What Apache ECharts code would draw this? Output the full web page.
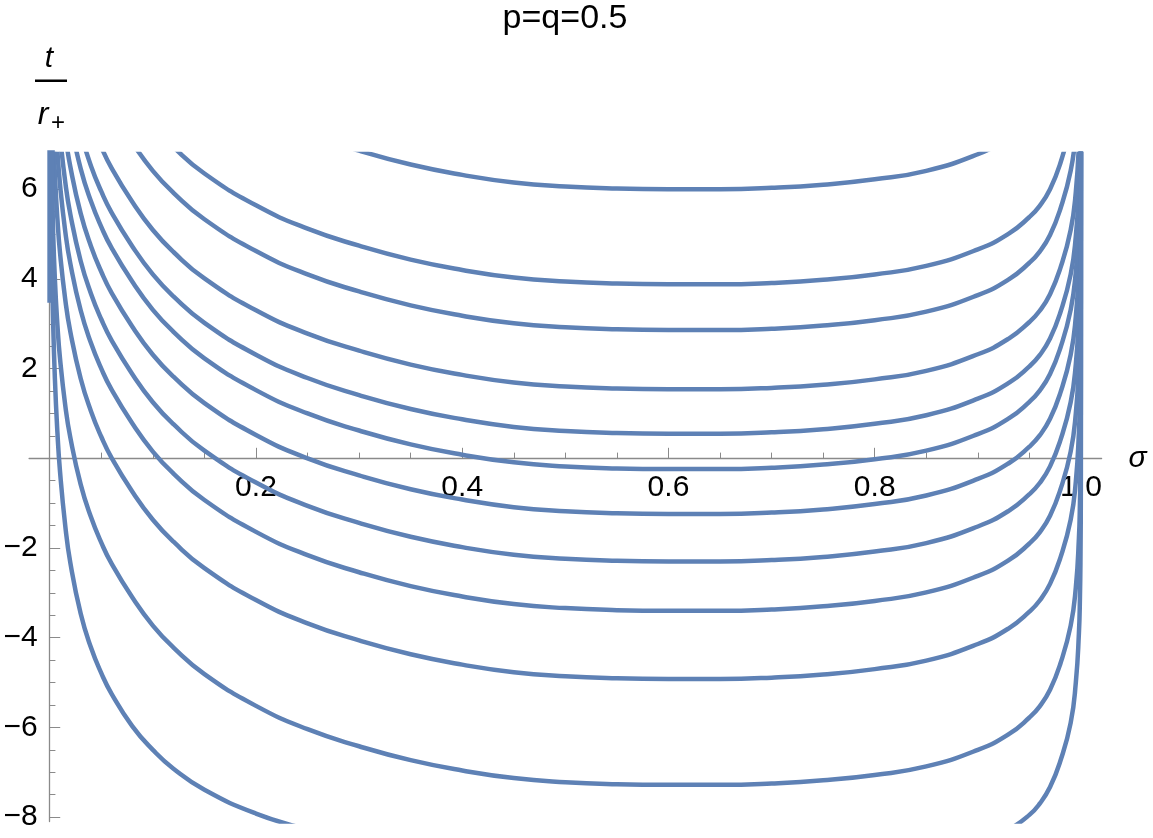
<!DOCTYPE html>
<html><head><meta charset="utf-8">
<script src="https://cdn.jsdelivr.net/npm/echarts@6/dist/echarts.min.js"></script>
<style>html,body{margin:0;padding:0;background:#fff}#c{width:1153px;height:838px}</style>
</head><body><div id="c"></div>
<script>
const chartTitle = 'p=q=0.5';
const xName = 'σ';
const xMajorTicks = [0.2, 0.4, 0.6, 0.8, 1.0];
const xMinorTicks = [0.05, 0.1, 0.15, 0.25, 0.3, 0.35, 0.45, 0.5, 0.55, 0.65, 0.7, 0.75, 0.85, 0.9, 0.95];
const yMajorTicks = [-8, -6, -4, -2, 2, 4, 6];
const yMinorTicks = [-7.5, -7, -6.5, -5.5, -5, -4.5, -3.5, -3, -2.5, -1.5, -1, -0.5, 0.5, 1, 1.5, 2.5, 3, 3.5, 4.5, 5, 5.5, 6.5];

const curve1 = [[0.25,7.24],[0.30,6.86],[0.35,6.55],[0.40,6.32],[0.45,6.15],[0.50,6.06],[0.55,6.015],[0.60,6.00],[0.65,6.00],[0.70,6.03],[0.75,6.10],[0.80,6.22],[0.85,6.41],[0.90,6.78],[0.93,7.13]];
const curve2 = [[0.10,7.43],[0.12,6.94],[0.15,6.35],[0.20,5.64],[0.25,5.12],[0.30,4.74],[0.35,4.43],[0.40,4.20],[0.45,4.03],[0.50,3.94],[0.55,3.895],[0.60,3.88],[0.65,3.88],[0.70,3.91],[0.75,3.98],[0.80,4.10],[0.85,4.29],[0.90,4.66],[0.93,5.01],[0.95,5.38],[0.96,5.63],[0.97,6.00],[0.98,6.58],[0.99,7.43]];
const curve3 = [[0.06,7.79],[0.08,7.04],[0.10,6.41],[0.12,5.92],[0.15,5.33],[0.20,4.62],[0.25,4.10],[0.30,3.72],[0.35,3.41],[0.40,3.18],[0.45,3.01],[0.50,2.92],[0.55,2.875],[0.60,2.86],[0.65,2.86],[0.70,2.89],[0.75,2.96],[0.80,3.08],[0.85,3.27],[0.90,3.64],[0.93,3.99],[0.95,4.36],[0.96,4.61],[0.97,4.98],[0.98,5.56],[0.99,6.41],[0.995,7.26]];
const curve4 = [[0.04,7.51],[0.05,6.94],[0.06,6.47],[0.08,5.72],[0.10,5.09],[0.12,4.60],[0.15,4.01],[0.20,3.30],[0.25,2.78],[0.30,2.40],[0.35,2.09],[0.40,1.86],[0.45,1.69],[0.50,1.60],[0.55,1.555],[0.60,1.54],[0.65,1.54],[0.70,1.57],[0.75,1.64],[0.80,1.76],[0.85,1.95],[0.90,2.32],[0.93,2.67],[0.95,3.04],[0.96,3.29],[0.97,3.66],[0.98,4.24],[0.99,5.09],[0.995,5.94],[0.998,7.04]];
const curve5 = [[0.03,7.25],[0.04,6.52],[0.05,5.95],[0.06,5.48],[0.08,4.73],[0.10,4.10],[0.12,3.61],[0.15,3.02],[0.20,2.31],[0.25,1.79],[0.30,1.41],[0.35,1.10],[0.40,0.87],[0.45,0.70],[0.50,0.61],[0.55,0.565],[0.60,0.55],[0.65,0.55],[0.70,0.58],[0.75,0.65],[0.80,0.77],[0.85,0.96],[0.90,1.33],[0.93,1.68],[0.95,2.05],[0.96,2.30],[0.97,2.67],[0.98,3.25],[0.99,4.10],[0.995,4.95],[0.998,6.05],[0.999,6.85]];
const curve6 = [[0.02,7.50],[0.03,6.46],[0.04,5.73],[0.05,5.16],[0.06,4.69],[0.08,3.94],[0.10,3.31],[0.12,2.82],[0.15,2.23],[0.20,1.52],[0.25,1.00],[0.30,0.62],[0.35,0.31],[0.40,0.08],[0.45,-0.09],[0.50,-0.18],[0.55,-0.225],[0.60,-0.24],[0.65,-0.24],[0.70,-0.21],[0.75,-0.14],[0.80,-0.02],[0.85,0.17],[0.90,0.54],[0.93,0.89],[0.95,1.26],[0.96,1.51],[0.97,1.88],[0.98,2.46],[0.99,3.31],[0.995,4.16],[0.998,5.26],[0.999,6.06],[0.9995,6.86]];
const curve7 = [[0.01,8.26],[0.015,7.23],[0.02,6.50],[0.03,5.46],[0.04,4.73],[0.05,4.16],[0.06,3.69],[0.08,2.94],[0.10,2.31],[0.12,1.82],[0.15,1.23],[0.20,0.52],[0.25,0.00],[0.30,-0.38],[0.35,-0.69],[0.40,-0.92],[0.45,-1.09],[0.50,-1.18],[0.55,-1.225],[0.60,-1.24],[0.65,-1.24],[0.70,-1.21],[0.75,-1.14],[0.80,-1.02],[0.85,-0.83],[0.90,-0.46],[0.93,-0.11],[0.95,0.26],[0.96,0.51],[0.97,0.88],[0.98,1.46],[0.99,2.31],[0.995,3.16],[0.998,4.26],[0.999,5.06],[0.9995,5.86],[0.9999,7.76]];
const curve8 = [[0.0075,7.94],[0.01,7.20],[0.015,6.17],[0.02,5.44],[0.03,4.40],[0.04,3.67],[0.05,3.10],[0.06,2.63],[0.08,1.88],[0.10,1.25],[0.12,0.76],[0.15,0.17],[0.20,-0.54],[0.25,-1.06],[0.30,-1.44],[0.35,-1.75],[0.40,-1.98],[0.45,-2.15],[0.50,-2.24],[0.55,-2.285],[0.60,-2.30],[0.65,-2.30],[0.70,-2.27],[0.75,-2.20],[0.80,-2.08],[0.85,-1.89],[0.90,-1.52],[0.93,-1.17],[0.95,-0.80],[0.96,-0.55],[0.97,-0.18],[0.98,0.40],[0.99,1.25],[0.995,2.10],[0.998,3.20],[0.999,4.00],[0.9995,4.80],[0.9999,6.70],[0.99999,9.50]];
const curve9 = [[0.005,7.87],[0.0075,6.84],[0.01,6.10],[0.015,5.07],[0.02,4.34],[0.03,3.30],[0.04,2.57],[0.05,2.00],[0.06,1.53],[0.08,0.78],[0.10,0.15],[0.12,-0.34],[0.15,-0.93],[0.20,-1.64],[0.25,-2.16],[0.30,-2.54],[0.35,-2.85],[0.40,-3.08],[0.45,-3.25],[0.50,-3.34],[0.55,-3.385],[0.60,-3.40],[0.65,-3.40],[0.70,-3.37],[0.75,-3.30],[0.80,-3.18],[0.85,-2.99],[0.90,-2.62],[0.93,-2.27],[0.95,-1.90],[0.96,-1.65],[0.97,-1.28],[0.98,-0.70],[0.99,0.15],[0.995,1.00],[0.998,2.10],[0.999,2.90],[0.9995,3.70],[0.9999,5.60],[0.99999,8.40]];
const curve10 = [[0.003,7.65],[0.005,6.35],[0.0075,5.32],[0.01,4.58],[0.015,3.55],[0.02,2.82],[0.03,1.78],[0.04,1.05],[0.05,0.48],[0.06,0.01],[0.08,-0.74],[0.10,-1.37],[0.12,-1.86],[0.15,-2.45],[0.20,-3.16],[0.25,-3.68],[0.30,-4.06],[0.35,-4.37],[0.40,-4.60],[0.45,-4.77],[0.50,-4.86],[0.55,-4.905],[0.60,-4.92],[0.65,-4.92],[0.70,-4.89],[0.75,-4.82],[0.80,-4.70],[0.85,-4.51],[0.90,-4.14],[0.93,-3.79],[0.95,-3.42],[0.96,-3.17],[0.97,-2.80],[0.98,-2.22],[0.99,-1.37],[0.995,-0.52],[0.998,0.58],[0.999,1.38],[0.9995,2.18],[0.9999,4.08],[0.99999,6.88]];
const curve11 = [[0.001,8.09],[0.002,6.33],[0.003,5.29],[0.005,3.99],[0.0075,2.96],[0.01,2.22],[0.015,1.19],[0.02,0.46],[0.03,-0.58],[0.04,-1.31],[0.05,-1.88],[0.06,-2.35],[0.08,-3.10],[0.10,-3.73],[0.12,-4.22],[0.15,-4.81],[0.20,-5.52],[0.25,-6.04],[0.30,-6.42],[0.35,-6.73],[0.40,-6.96],[0.45,-7.13],[0.50,-7.22],[0.55,-7.265],[0.60,-7.28],[0.65,-7.28],[0.70,-7.25],[0.75,-7.18],[0.80,-7.06],[0.85,-6.87],[0.90,-6.50],[0.93,-6.15],[0.95,-5.78],[0.96,-5.53],[0.97,-5.16],[0.98,-4.58],[0.99,-3.73],[0.995,-2.88],[0.998,-1.78],[0.999,-0.98],[0.9995,-0.18],[0.9999,1.72],[0.99999,4.52],[0.999999,7.32]];
const curve12 = [[0.0007,7.68],[0.001,6.61],[0.002,4.53],[0.003,3.31],[0.005,1.78],[0.0075,0.56],[0.01,-0.30],[0.015,-1.49],[0.02,-2.33],[0.03,-3.46],[0.04,-4.22],[0.05,-4.79],[0.06,-5.25],[0.08,-5.97],[0.10,-6.50],[0.12,-6.92],[0.15,-7.39],[0.20,-7.92],[0.25,-8.28],[0.30,-8.60],[0.35,-8.85],[0.40,-9.05],[0.45,-9.20],[0.50,-9.30],[0.55,-9.36],[0.60,-9.38],[0.65,-9.38],[0.70,-9.35],[0.75,-9.30],[0.80,-9.18],[0.85,-9.00],[0.90,-8.62],[0.93,-8.28],[0.95,-7.95],[0.96,-7.70],[0.97,-7.33],[0.98,-6.75],[0.99,-5.90],[0.995,-5.00],[0.998,-3.90],[0.999,-3.10],[0.9995,-2.30],[0.9999,-0.40],[0.99999,2.40],[0.999999,5.20],[0.9999999,8.00]];
const edgeBand = [[0.0013,3.47],[0.0013,7.3]];

const curves = [curve1, curve2, curve3, curve4, curve5, curve6, curve7, curve8, curve9, curve10, curve11, curve12];

const LINE = '#5E81B5';
const AXIS = '#8a8a8a';
const FONT = "'Liberation Sans', Arial, Helvetica, sans-serif";
const fmtNum = v => (v < 0 ? '\u2212' + Math.abs(v) : String(v));

const chart = echarts.init(document.getElementById('c'), null, {renderer: 'canvas'});
const grid = {left: 29.1, top: 154, width: 1072.5, height: 667.6, containLabel: false, outerBoundsMode: 'none'};
const xRange = {min: -0.02, max: 1.02};
const yRange = {min: -8.10, max: 6.785};
// move the axes onto the origin lines (x axis at t=0, y axis at σ=0)
const xAxisOffset = -grid.height * (0 - yRange.min) / (yRange.max - yRange.min);
const yAxisOffset = -grid.width * (0 - xRange.min) / (xRange.max - xRange.min);

const series = curves.map(d => ({
  type: 'line', data: d, xAxisIndex: 0, yAxisIndex: 0,
  showSymbol: false, symbol: 'none', smooth: 0.5,
  clip: true, silent: true,
  lineStyle: {color: LINE, width: 4.5}
}));
series.push({
  type: 'line', data: edgeBand, showSymbol: false, symbol: 'none', clip: true, silent: true,
  lineStyle: {color: LINE, width: 7.5, cap: 'butt'}
});

chart.setOption({
  animation: false,
  backgroundColor: '#fff',
  textStyle: {fontFamily: FONT},
  title: {
    text: chartTitle, left: 565, top: 2, textAlign: 'center', padding: 0,
    textStyle: {fontSize: 34, fontWeight: 'normal', color: '#000', fontFamily: FONT}
  },
  grid: grid,
  xAxis: [
    {
      type: 'value', min: xRange.min, max: xRange.max, position: 'bottom', offset: xAxisOffset,
      name: xName, nameLocation: 'end', nameGap: 27,
      nameTextStyle: {fontSize: 30, fontStyle: 'italic', color: '#000', fontFamily: FONT, verticalAlign: 'middle'},
      axisLine: {show: true, onZero: false, lineStyle: {color: AXIS, width: 1.3}},
      axisTick: {show: true, inside: true, length: 5.7, customValues: xMinorTicks, lineStyle: {color: AXIS, width: 1}},
      axisLabel: {show: true, customValues: xMajorTicks, formatter: v => Number(v).toFixed(1), fontSize: 30, color: '#000', margin: 14, fontFamily: FONT},
      splitLine: {show: false}
    },
    {
      type: 'value', min: xRange.min, max: xRange.max, position: 'bottom', offset: xAxisOffset,
      axisLine: {show: false, onZero: false},
      axisTick: {show: true, inside: true, length: 10.5, customValues: xMajorTicks, lineStyle: {color: AXIS, width: 1}},
      axisLabel: {show: false},
      splitLine: {show: false}
    }
  ],
  yAxis: [
    {
      type: 'value', min: yRange.min, max: yRange.max, position: 'left', offset: yAxisOffset,
      axisLine: {show: true, onZero: false, lineStyle: {color: AXIS, width: 1.3}},
      axisTick: {show: true, inside: true, length: 5.7, customValues: yMinorTicks, lineStyle: {color: AXIS, width: 1}},
      axisLabel: {show: true, customValues: yMajorTicks, formatter: fmtNum, fontSize: 30, color: '#000', margin: 12, fontFamily: FONT},
      splitLine: {show: false}
    },
    {
      type: 'value', min: yRange.min, max: yRange.max, position: 'left', offset: yAxisOffset,
      axisLine: {show: false, onZero: false},
      axisTick: {show: true, inside: true, length: 10.5, customValues: yMajorTicks, lineStyle: {color: AXIS, width: 1}},
      axisLabel: {show: false},
      splitLine: {show: false}
    }
  ],
  graphic: [
    {type: 'text', x: 49, y: 59, style: {text: 't', fontSize: 30, fontStyle: 'italic', fontFamily: FONT, fill: '#000', align: 'center', verticalAlign: 'middle'}},
    {type: 'rect', shape: {x: 35, y: 79.5, width: 32, height: 2.5}, style: {fill: '#000'}},
    {type: 'text', x: 43, y: 115, style: {text: 'r', fontSize: 32, fontStyle: 'italic', fontFamily: FONT, fill: '#000', align: 'center', verticalAlign: 'middle'}},
    {type: 'text', x: 58, y: 123, style: {text: '+', fontSize: 24, fontFamily: FONT, fill: '#000', align: 'center', verticalAlign: 'middle'}}
  ],
  series: series
});
</script>
</body></html>
